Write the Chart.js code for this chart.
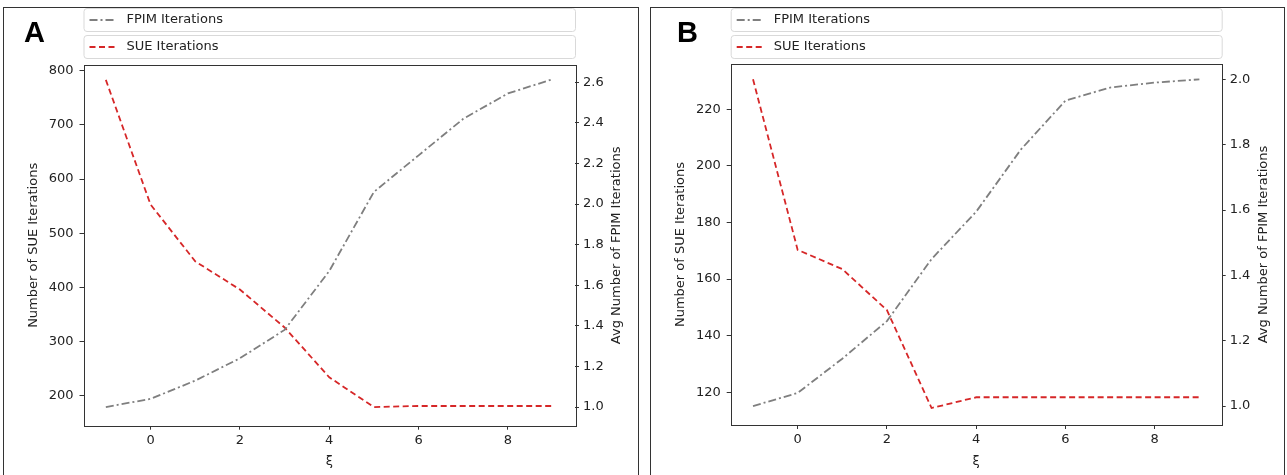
<!DOCTYPE html>
<html>
<head>
<meta charset="utf-8">
<script src="https://cdn.jsdelivr.net/npm/chart.js@4.4.0/dist/chart.umd.min.js"></script>
<style>
  html, body { margin: 0; padding: 0; background: #fff; width: 1287px; height: 475px; overflow: hidden; }
  .panel { position: absolute; top: 7px; height: 480px; border: 1px solid #333; box-sizing: border-box; background: #fff; }
  #panelA { left: 3px; width: 636px; }
  #panelB { left: 650px; width: 635px; }
  .panel canvas { position: absolute; left: 0; top: 0; }
  .tag { position: absolute; top: 10px; font: bold 29px "Liberation Sans", Arial, sans-serif; line-height: 29px; color: #000; }
</style>
</head>
<body>
<div class="panel" id="panelA">
  <canvas id="chartA" width="634" height="467"></canvas>
  <div class="tag" style="left:20px">A</div>
</div>
<div class="panel" id="panelB">
  <canvas id="chartB" width="633" height="467"></canvas>
  <div class="tag" style="left:26px">B</div>
</div>
<script>
// xi values shared by both panels
const xiValues = [-1, 0, 1, 2, 3, 4, 5, 6, 7, 8, 9];

// panel A
const sueItersA = [783, 553, 448, 396, 326, 234, 179, 181, 181, 181, 181];
const fpimItersA = [1.0, 1.04, 1.13, 1.24, 1.38, 1.67, 2.06, 2.24, 2.42, 2.545, 2.615];

// panel B
const sueItersB = [230.6, 170.3, 163.5, 149, 114.4, 118.2, 118.2, 118.2, 118.2, 118.2, 118.2];
const fpimItersB = [1.0, 1.04, 1.145, 1.26, 1.45, 1.595, 1.785, 1.935, 1.975, 1.99, 2.0];

// tick labels
const xTicks = [0, 2, 4, 6, 8];
const sueTicksA = [200, 300, 400, 500, 600, 700, 800];
const fpimTicksA = [1.0, 1.2, 1.4, 1.6, 1.8, 2.0, 2.2, 2.4, 2.6];
const sueTicksB = [120, 140, 160, 180, 200, 220];
const fpimTicksB = [1.0, 1.2, 1.4, 1.6, 1.8, 2.0];

const FONT = 'DejaVu Sans';
const TEXT = '#222';

// frame around the plot area + right axis title (matplotlib twinx reads bottom-to-top)
const framePlugin = {
    id: 'frame',
    afterDraw(chart) {
        const { ctx, chartArea } = chart;
        ctx.save();
        ctx.strokeStyle = '#333';
        ctx.lineWidth = 1;
        ctx.strokeRect(Math.round(chartArea.left) + 0.5, Math.round(chartArea.top) + 0.5,
            Math.round(chartArea.right - chartArea.left), Math.round(chartArea.bottom - chartArea.top));

        const title = chart.options.plugins.frame.rightTitle;
        ctx.translate(chartArea.right + 42, (chartArea.top + chartArea.bottom) / 2);
        ctx.rotate(-Math.PI / 2);
        ctx.fillStyle = TEXT;
        ctx.font = `13px "${FONT}"`;
        ctx.textAlign = 'center';
        ctx.textBaseline = 'middle';
        ctx.fillText(title, 0, 0);
        ctx.restore();
    }
};

// two stacked legend boxes above the plot, one per dataset
const legendBoxes = {
    id: 'legendBoxes',
    afterDraw(chart) {
        const { ctx, chartArea } = chart;
        const rows = [{ top: 0.5, h: 23 }, { top: 27.5, h: 23 }];
        ctx.save();
        chart.data.datasets.forEach((ds, i) => {
            const r = rows[i];
            const x = chartArea.left + 0.5;
            const w = chartArea.right - chartArea.left;
            ctx.beginPath();
            ctx.roundRect(x, r.top, w, r.h, 3);
            ctx.fillStyle = '#fff';
            ctx.fill();
            ctx.strokeStyle = '#d9d9d9';
            ctx.lineWidth = 1;
            ctx.stroke();

            const cy = r.top + r.h / 2;
            ctx.beginPath();
            ctx.setLineDash(ds.borderDash);
            ctx.strokeStyle = ds.borderColor;
            ctx.lineWidth = ds.borderWidth;
            ctx.moveTo(chartArea.left + 6, cy);
            ctx.lineTo(chartArea.left + 33, cy);
            ctx.stroke();
            ctx.setLineDash([]);

            ctx.fillStyle = TEXT;
            ctx.font = `13px "${FONT}"`;
            ctx.textBaseline = 'middle';
            ctx.fillText(ds.label, chartArea.left + 43, cy);
        });
        ctx.restore();
    }
};

function makeChart(id, opts) {
    const tickGrid = { display: true, drawOnChartArea: false, drawTicks: true, tickLength: 4, tickColor: '#333' };
    return new Chart(document.getElementById(id), {
        type: 'line',
        data: {
            labels: xiValues,
            datasets: [
                {
                    label: 'FPIM Iterations',
                    data: xiValues.map((x, i) => ({ x: x, y: opts.fpim[i] })),
                    yAxisID: 'y1',
                    borderColor: '#7f7f7f',
                    borderDash: [8, 3, 2, 3],
                    borderWidth: 1.8,
                    pointRadius: 0,
                    tension: 0,
                    fill: false
                },
                {
                    label: 'SUE Iterations',
                    data: xiValues.map((x, i) => ({ x: x, y: opts.sue[i] })),
                    yAxisID: 'y',
                    borderColor: '#d62728',
                    borderDash: [6, 3.5],
                    borderWidth: 1.8,
                    pointRadius: 0,
                    tension: 0,
                    fill: false
                }
            ]
        },
        options: {
            responsive: false,
            animation: false,
            devicePixelRatio: 1,
            layout: { padding: { top: opts.top, left: 0, right: 0, bottom: 0 } },
            scales: {
                x: {
                    type: 'linear',
                    min: -1.5,
                    max: 9.5,
                    afterBuildTicks: s => { s.ticks = xTicks.map(v => ({ value: v })); },
                    afterFit: s => { s.height = opts.xHeight; },
                    grid: tickGrid,
                    border: { display: false },
                    ticks: { color: TEXT, font: { family: FONT, size: 13 }, padding: 3, maxRotation: 0, autoSkip: false },
                    title: { display: true, text: 'ξ', color: TEXT, font: { family: FONT, size: 13 }, padding: { top: 0, bottom: 5.5 } }
                },
                y: {
                    position: 'left',
                    min: opts.sueMin,
                    max: opts.sueMax,
                    afterBuildTicks: s => { s.ticks = opts.sueTicks.map(v => ({ value: v })); },
                    afterFit: s => { s.width = opts.leftWidth; },
                    grid: tickGrid,
                    border: { display: false },
                    ticks: { color: TEXT, font: { family: FONT, size: 13 }, padding: 6 },
                    title: { display: true, text: 'Number of SUE Iterations', color: TEXT, font: { family: FONT, size: 13 }, padding: { top: 22, bottom: 0 } }
                },
                y1: {
                    position: 'right',
                    min: opts.fpimMin,
                    max: opts.fpimMax,
                    afterBuildTicks: s => { s.ticks = opts.fpimTicks.map(v => ({ value: v })); },
                    afterFit: s => { s.width = opts.rightWidth; },
                    grid: tickGrid,
                    border: { display: false },
                    ticks: { color: TEXT, font: { family: FONT, size: 13 }, padding: 4, callback: v => v.toFixed(1) }
                }
            },
            plugins: {
                legend: { display: false },
                tooltip: { enabled: false },
                frame: { rightTitle: 'Avg Number of FPIM Iterations' }
            }
        },
        plugins: [framePlugin, legendBoxes]
    });
}

makeChart('chartA', {
    sue: sueItersA, fpim: fpimItersA,
    sueTicks: sueTicksA, fpimTicks: fpimTicksA,
    sueMin: 144.6, sueMax: 810.5,
    fpimMin: 0.908, fpimMax: 2.685,
    top: 57, xHeight: 49.3, leftWidth: 79.5, rightWidth: 63
});

makeChart('chartB', {
    sue: sueItersB, fpim: fpimItersB,
    sueTicks: sueTicksB, fpimTicks: fpimTicksB,
    sueMin: 108.4, sueMax: 236,
    fpimMin: 0.942, fpimMax: 2.047,
    top: 56, xHeight: 50, leftWidth: 79.7, rightWidth: 62.3
});
</script>
</body>
</html>
